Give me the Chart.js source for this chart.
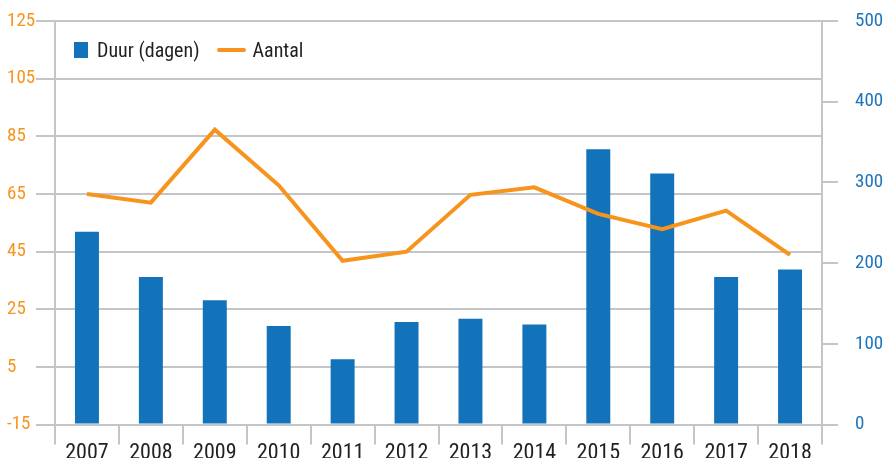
<!DOCTYPE html>
<html lang="nl">
<head>
  <meta charset="UTF-8">
  <title>Duur en aantal</title>
  <script src="https://cdn.jsdelivr.net/npm/chart.js"></script>
  <style>
    html, body { margin: 0; padding: 0; overflow: hidden; background: #fff; }
    #wrap { position: relative; width: 883px; height: 463px; }
    .legend { position: absolute; top: 38px; left: 74px; display: flex; align-items: center;
      font-family: "Roboto Condensed", sans-serif; font-size: 20px; color: #231f20; }
    .sq { width: 14px; height: 16px; background: #1273bb; margin-right: 9px; }
    .ln { width: 29px; height: 4px; background: #f7941d; border-radius: 2px; margin: 0 7px 0 17px; }
  </style>
</head>
<body>
  <div id="wrap">
    <canvas id="chart"></canvas>
    <div class="legend">
      <span class="sq"></span><span>Duur (dagen)</span>
      <span class="ln"></span><span>Aantal</span>
    </div>
  </div>
  <script>
    const years = ['2007', '2008', '2009', '2010', '2011', '2012', '2013', '2014', '2015', '2016', '2017', '2018'];
    const duur = [239, 183, 154, 122, 81, 127, 131, 124, 341, 311, 183, 192];
    const aantal = [65, 62, 87.3, 68, 41.8, 45, 64.7, 67.3, 58.1, 52.8, 59.2, 43.9];

    const grey = '#c4c5c8';
    const orange = '#f7941d';
    const blue = '#1273bb';
    const fam = '"Roboto Condensed", sans-serif';

    new Chart(document.getElementById('chart'), {
      type: 'bar',
      data: {
        labels: years,
        datasets: [
          {
            type: 'line',
            label: 'Aantal',
            data: aantal,
            yAxisID: 'y',
            borderColor: orange,
            backgroundColor: orange,
            borderWidth: 4,
            pointRadius: 0,
            tension: 0,
            order: 1
          },
          {
            label: 'Duur (dagen)',
            data: duur,
            yAxisID: 'y1',
            backgroundColor: blue,
            categoryPercentage: 1,
            barPercentage: 0.375,
            order: 2
          }
        ]
      },
      options: {
        responsive: true,
        maintainAspectRatio: false,
        animation: false,
        layout: { padding: { left: 7, top: 21, right: 0, bottom: 0 } },
        plugins: { legend: { display: false }, tooltip: { enabled: false } },
        scales: {
          x: {
            grid: { offset: true, drawOnChartArea: false, color: grey, lineWidth: 2, tickLength: 20 },
            border: { color: grey, width: 2 },
            ticks: { color: '#231f20', font: { family: fam, size: 22 }, padding: -4 }
          },
          y: {
            position: 'left',
            min: -15, max: 125,
            grid: { color: grey, lineWidth: 2, tickLength: 19 },
            border: { color: grey, width: 2 },
            ticks: { stepSize: 20, color: orange, crossAlign: 'far', padding: 1, font: { family: fam, size: 19 } },
            afterFit: s => { s.width = 48; s.paddingTop = 10; s.paddingBottom = 10; }
          },
          y1: {
            position: 'right',
            min: 0, max: 500,
            grid: { drawOnChartArea: false, color: grey, lineWidth: 2, tickLength: 16 },
            border: { color: grey, width: 2 },
            ticks: { stepSize: 100, color: '#1c75bc', padding: 17, font: { family: fam, size: 19 } },
            afterFit: s => { s.width = 61; s.paddingTop = 10; s.paddingBottom = 10; }
          }
        }
      }
    });
  </script>
</body>
</html>
